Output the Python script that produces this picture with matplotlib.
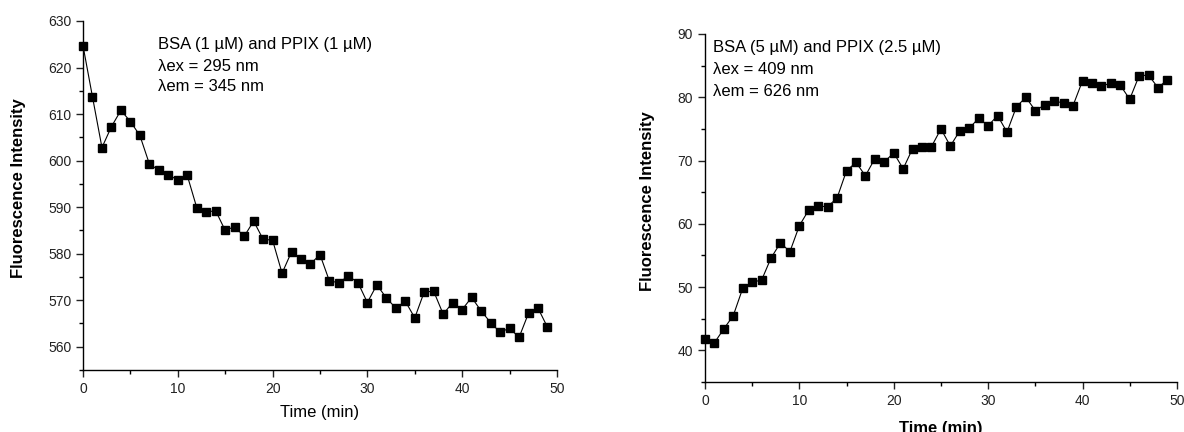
import matplotlib
import numpy as np

matplotlib.use("Agg")
import matplotlib.pyplot as plt
from matplotlib.ticker import MultipleLocator

plt.rcParams["font.family"] = ["Liberation Sans", "DejaVu Sans"]

time_min = list(range(50))

ppix1_intensity = [
    624.7, 613.7, 602.8, 607.3, 610.8, 608.4, 605.4, 599.3, 597.9, 597.0,
    595.8, 596.8, 589.9, 589.0, 589.2, 585.0, 585.8, 583.7, 587.0, 583.1,
    582.9, 575.8, 580.4, 578.9, 577.8, 579.8, 574.1, 573.8, 575.2, 573.8,
    569.5, 573.3, 570.5, 568.3, 569.8, 566.2, 571.8, 571.9, 567.0, 569.5,
    568.0, 570.6, 567.7, 565.2, 563.1, 564.0, 562.0, 567.2, 568.3, 564.2,
]

ppix25_intensity = [
    41.8, 41.2, 43.4, 45.5, 49.8, 50.8, 51.1, 54.6, 57.0, 55.6,
    59.7, 62.2, 62.8, 62.7, 64.1, 68.4, 69.7, 67.6, 70.3, 69.8,
    71.2, 68.7, 71.9, 72.2, 72.2, 75.0, 72.3, 74.7, 75.1, 76.7,
    75.5, 77.1, 74.5, 78.5, 80.0, 77.9, 78.8, 79.4, 79.1, 78.7,
    82.6, 82.3, 81.8, 82.2, 81.9, 79.7, 83.4, 83.5, 81.5, 82.8,
]

left_notes = ["BSA (1 \u00b5M) and PPIX (1 \u00b5M)", "\u03bbex = 295 nm", "\u03bbem = 345 nm"]
right_notes = ["BSA (5 \u00b5M) and PPIX (2.5 \u00b5M)", "\u03bbex = 409 nm", "\u03bbem = 626 nm"]


def style_axis(ax):
    for side in ("top", "right"):
        ax.spines[side].set_visible(False)
    for side in ("left", "bottom"):
        ax.spines[side].set_linewidth(1.0)
    ax.xaxis.set_major_locator(MultipleLocator(10))
    ax.xaxis.set_minor_locator(MultipleLocator(5))
    ax.yaxis.set_major_locator(MultipleLocator(10))
    ax.yaxis.set_minor_locator(MultipleLocator(5))
    ax.tick_params(which="major", direction="out", length=5, width=1.0,
                   labelsize=10, colors="#222222")
    ax.tick_params(which="minor", direction="out", length=3, width=1.0)


fig = plt.figure(figsize=(11.84, 4.32), dpi=100)
ax1 = fig.add_axes([0.0701, 0.1435, 0.4003, 0.8079])
ax2 = fig.add_axes([0.5954, 0.1157, 0.3986, 0.8056])

ax1.plot(time_min, ppix1_intensity, "-s", color="black", linewidth=0.8,
         markersize=6, clip_on=False)
ax1.set_xlim(0, 50)
ax1.set_ylim(555, 630)
style_axis(ax1)
ax1.set_xlabel("Time (min)", fontsize=12)
ax1.set_ylabel("Fluorescence Intensity", fontsize=12, fontweight="bold")
ax1.xaxis.set_label_coords(0.5, -0.1)
ax1.yaxis.set_label_coords(-0.12, 0.52)
for note, ypos in zip(left_notes, [0.934, 0.871, 0.811]):
    ax1.text(0.158, ypos, note, transform=ax1.transAxes, fontsize=12, va="center")

ax2.plot(time_min, ppix25_intensity, "-s", color="black", linewidth=0.8,
         markersize=6, clip_on=False)
ax2.set_xlim(0, 50)
ax2.set_ylim(35, 90)
style_axis(ax2)
ax2.set_xlabel("Time (min)", fontsize=12, fontweight="bold")
ax2.set_ylabel("Fluorescence Intensity", fontsize=12, fontweight="bold")
ax2.xaxis.set_label_coords(0.5, -0.112)
ax2.yaxis.set_label_coords(-0.105, 0.52)
for note, ypos in zip(right_notes, [0.960, 0.897, 0.836]):
    ax2.text(0.017, ypos, note, transform=ax2.transAxes, fontsize=12, va="center")

fig.savefig("out.png", dpi=100)
